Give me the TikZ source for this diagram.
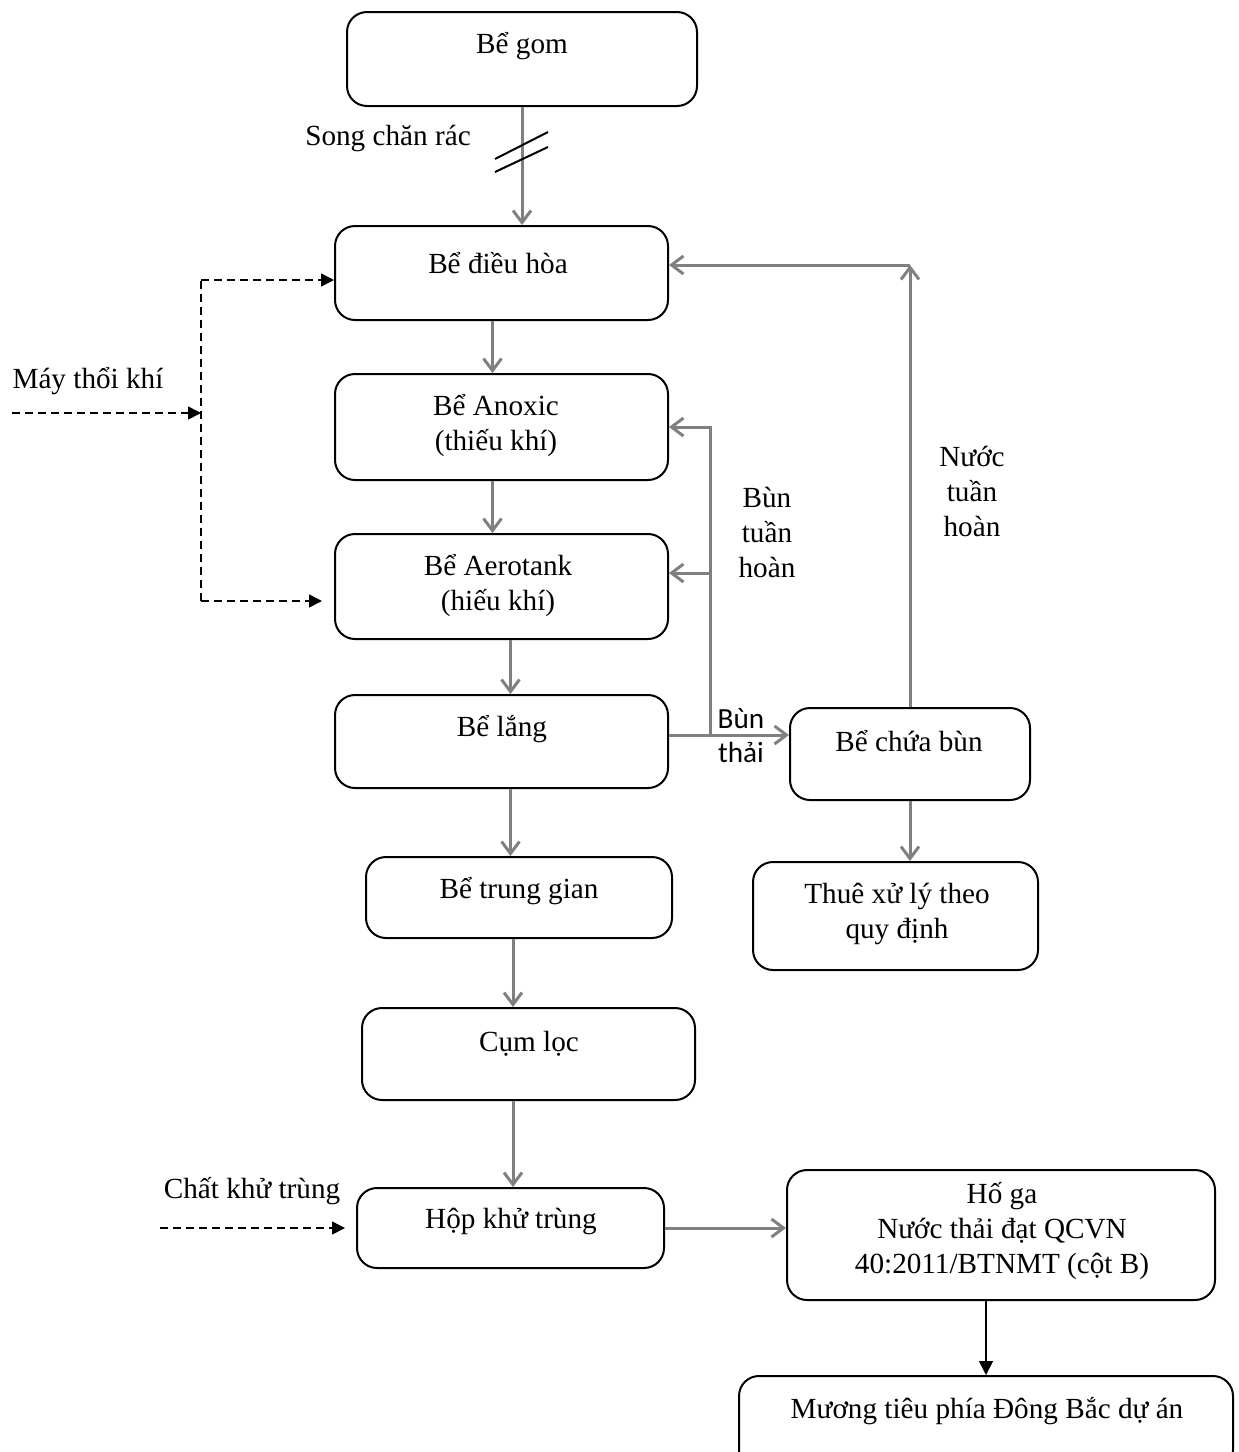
\documentclass[tikz,border=0pt]{standalone}
\usepackage{fontspec}
\setmainfont{Liberation Serif}
\newfontfamily\calibrifont{Carlito}
\usepackage{tikz}
\usetikzlibrary{arrows.meta,calc}
\definecolor{flowgray}{RGB}{128,128,128}

\begin{document}
\begin{tikzpicture}[x=0.5pt, y=-0.5pt,
  box/.style={draw, line width=1pt, rounded corners=10pt, inner sep=0pt},
  txt/.style={align=center, inner sep=0pt, font=\fontsize{14.6pt}{17.5pt}\selectfont},
  flow/.style={draw=flowgray, line width=1.5pt, -{Straight Barb[length=6pt,width=9pt,line width=1.5pt]}},
  air/.style={line width=0.8pt, dash pattern=on 4pt off 2.5pt, -{Triangle[length=6.5pt,width=6.5pt]}},
  outflow/.style={line width=0.8pt, -{Triangle[length=7pt,width=7pt]}}
]
\useasboundingbox (0,0) rectangle (1238,1452);
% tanks
\node[box, minimum width=175pt, minimum height=47pt] (gom) at (522,59) {};
\node[box, minimum width=166.5pt, minimum height=47pt] (dieuhoa) at (501.5,273) {};
\node[box, minimum width=166.5pt, minimum height=53pt] (anoxic) at (501.5,427) {};
\node[box, minimum width=166.5pt, minimum height=52.5pt] (aerotank) at (501.5,586.5) {};
\node[box, minimum width=166.5pt, minimum height=46.5pt] (lang) at (501.5,741.5) {};
\node[box, minimum width=153pt, minimum height=40.5pt] (trunggian) at (519,897.5) {};
\node[box, minimum width=166.5pt, minimum height=46pt] (cumloc) at (528.5,1054) {};
\node[box, minimum width=153.5pt, minimum height=40pt] (hop) at (510.5,1228) {};
\node[box, minimum width=214pt, minimum height=65pt] (hoga) at (1001,1235) {};
\node[box, minimum width=247pt, minimum height=47pt] (muong) at (986,1423) {};
\node[box, minimum width=120pt, minimum height=46pt] (chuabun) at (910,754) {};
\node[box, minimum width=142.5pt, minimum height=54pt] (thue) at (895.5,916) {};
% texts
\node[txt] (gom-t) at (522,46) {Bể gom};
\node[txt] (dieuhoa-t) at (498,263) {Bể điều hòa};
\node[txt] (anoxic-t) at (496,426) {Bể Anoxic\\(thiếu khí)};
\node[txt] (aerotank-t) at (498,586) {Bể Aerotank\\(hiếu khí)};
\node[txt] (lang-t) at (502,729) {Bể lắng};
\node[txt] (trunggian-t) at (519,891) {Bể trung gian};
\node[txt] (cumloc-t) at (529,1044) {Cụm lọc};
\node[txt] (hop-t) at (511,1221) {Hộp khử trùng};
\node[txt] (hoga-t) at (1002,1231) {Hố ga\\Nước thải đạt QCVN\\40:2011/BTNMT (cột B)};
\node[txt] (muong-t) at (987,1411) {Mương tiêu phía Đông Bắc dự án};
\node[txt] (chuabun-t) at (909,741) {Bể chứa bùn};
\node[txt] (thue-t) at (897,914) {Thuê xử lý theo\\quy định};
% labels
\node[txt] (song) at (388,138) {Song chăn rác};
\node[txt] (maythoi) at (88,381) {Máy thổi khí};
\node[txt] (khutrung) at (252,1191) {Chất khử trùng};
\node[txt] (buntuan) at (767,532) {Bùn\\tuần\\hoàn};
\node[txt] (nuoctuan) at (972,491) {Nước\\tuần\\hoàn};
\node[txt, font=\calibrifont\fontsize{14.6pt}{17pt}\selectfont] (bunthai) at (741,736) {Bùn\\thải};
% main line
\draw[flow] (gom.south) -- (gom.south |- dieuhoa.north);
\draw[line width=1pt] (495,159) -- (548,132);
\draw[line width=1pt] (495,172) -- (548,147);
\draw[flow] ($(dieuhoa.south)+(-9,0)$) -- ($(anoxic.north)+(-9,0)$);
\draw[flow] ($(anoxic.south)+(-9,0)$) -- ($(aerotank.north)+(-9,0)$);
\draw[flow] ($(aerotank.south)+(9,0)$) -- ($(lang.north)+(9,0)$);
\draw[flow] ($(lang.south)+(9,0)$) -- ($(trunggian.north)+(-8.5,0)$);
\draw[flow] ($(trunggian.south)+(-6,0)$) -- ($(cumloc.north)+(-15.5,0)$);
\draw[flow] ($(cumloc.south)+(-15.5,0)$) -- ($(hop.north)+(2.5,0)$);
\draw[flow] (hop.east) -- (hop.east -| hoga.west);
\draw[outflow] (muong.north |- hoga.south) -- (muong.north);
% sludge
\coordinate (split) at (710,735);
\draw[flow] ($(lang.east)+(0,-6.5)$) -- (chuabun.west |- split);
\draw[flow] (split) -- (split |- anoxic.east) -- (anoxic.east);
\draw[flow] (split |- 0,573) -- (aerotank.east |- 0,573);
\coordinate (ret) at (910,265);
\draw[flow] (chuabun.north) -- (ret);
\draw[flow] (ret) -- (ret -| dieuhoa.east);
\draw[flow] (chuabun.south) -- (chuabun.south |- thue.north);
% air and chemicals
\coordinate (blower) at (12,413);
\coordinate (bus) at (201,413);
\draw[air] (blower) -- (bus);
\draw[line width=0.8pt, dash pattern=on 4pt off 2.5pt] (201,601) -- (201,280);
\draw[air] (201,280) -- (dieuhoa.west |- 0,280);
\draw[air] (201,601) -- (322,601);
\draw[air] (160,1228) -- (345,1228);
\end{tikzpicture}
\end{document}
